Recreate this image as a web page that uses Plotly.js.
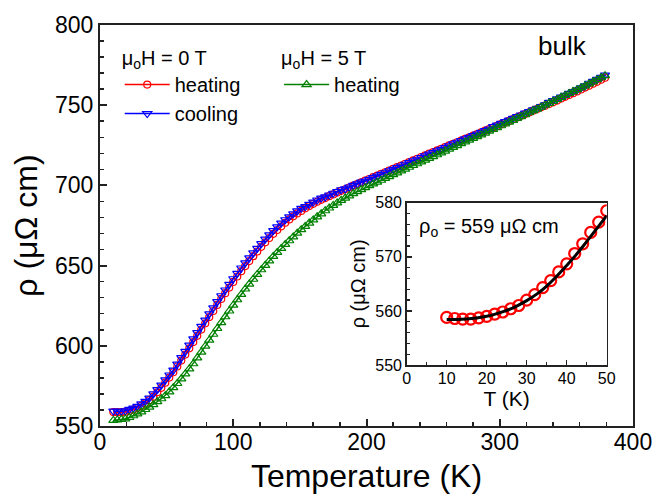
<!DOCTYPE html>
<html>
<head>
<meta charset="utf-8">
<script src="https://cdn.plot.ly/plotly-3.0.1.min.js"></script>
<style>html,body{margin:0;padding:0;background:#fff;}#chart{width:657px;height:497px;}</style>
</head>
<body>
<div id="chart"></div>
<script>
// Temperature grid of the main panel (K)
const T = [10,13,16,19,22,25,28,31,34,37,40,43,46,49,52,55,58,61,64,67,70,73,76,79,82,85,88,91,94,97,
100,103,106,109,112,115,118,121,124,127,130,133,136,139,142,145,148,151,154,157,160,163,166,169,172,175,178,181,184,187,
190,193,196,199,202,205,208,211,214,217,220,223,226,229,232,235,238,241,244,247,250,253,256,259,262,265,268,271,274,277,
280,283,286,289,292,295,298,301,304,307,310,313,316,319,322,325,328,331,334,337,340,343,346,349,352,355,358,361,364,367,
370,373,376,379];

// muoH = 0 T, heating (red)
const rho0Heat = [558.7,558.6,558.6,558.9,559.5,560.2,561.3,562.5,564.1,566.1,
568.3,571.0,573.8,577.0,580.2,583.5,587.1,590.8,594.5,598.4,
602.3,606.2,610.1,614.0,617.9,621.7,625.5,629.2,632.8,636.3,
639.8,643.2,646.5,649.7,652.8,655.9,658.8,661.7,664.5,667.2,
669.8,672.2,674.5,676.7,678.8,680.7,682.5,684.1,685.7,687.1,
688.5,689.8,691.0,692.1,693.3,694.4,695.5,696.6,697.6,698.7,
699.8,700.8,701.9,703.0,704.0,705.1,706.1,707.2,708.2,709.3,
710.3,711.4,712.4,713.5,714.5,715.6,716.6,717.7,718.7,719.8,
720.8,721.8,722.8,723.9,724.9,725.9,726.9,727.9,729.0,730.0,
731.0,732.0,733.0,734.1,735.1,736.1,737.1,738.2,739.2,740.2,
741.3,742.4,743.4,744.5,745.5,746.6,747.6,748.7,749.7,750.8,
751.8,752.9,754.1,755.2,756.4,757.5,758.6,759.8,761.0,762.2,
763.4,764.6,765.9,767.1];

// muoH = 0 T, cooling (blue)
const rho0Cool = [559.3,559.2,559.2,559.5,560.4,561.1,562.2,563.8,565.4,567.4,
570.0,572.7,575.5,578.7,581.8,584.8,588.6,592.6,596.5,600.4,
604.3,608.2,612.1,616.0,619.9,623.7,627.5,631.2,634.8,638.3,
641.8,645.2,648.5,651.7,654.8,657.9,660.8,663.7,666.5,669.2,
671.8,674.2,676.5,678.6,680.4,682.3,684.1,685.7,686.8,688.2,
689.6,690.9,692.1,692.8,694.0,695.1,696.2,697.3,697.8,698.9,
700.0,701.0,702.1,702.7,703.7,704.8,705.8,706.9,707.9,709.0,
710.0,711.1,712.1,713.2,714.2,715.3,716.3,717.4,718.4,719.5,
720.5,721.5,722.5,723.6,724.6,725.9,726.9,727.9,729.0,730.0,
731.0,732.0,733.0,734.1,735.1,736.6,737.6,738.7,739.7,740.7,
741.8,742.9,743.9,745.0,746.0,747.1,748.1,749.2,750.2,751.8,
752.8,753.9,755.1,756.2,757.4,758.5,759.6,760.8,762.0,763.7,
764.9,766.1,767.4,768.8];

// muoH = 5 T, heating (green)
const rho5Heat = [553.5,553.8,554.1,554.4,555.3,556.4,557.5,558.8,560.3,561.8,
563.3,565.2,567.0,568.9,571.3,573.9,576.5,579.4,582.5,585.6,
588.8,592.5,596.1,599.8,603.5,607.2,610.8,614.5,618.1,621.7,
625.3,628.7,632.0,635.4,638.5,641.5,644.5,647.4,650.2,652.9,
655.7,658.2,660.7,663.2,665.5,667.9,670.2,672.4,674.4,676.5,
678.5,680.4,682.3,684.2,685.9,687.5,689.1,690.7,692.1,693.5,
694.9,696.1,697.4,698.6,699.8,700.9,702.0,703.2,704.4,705.5,
706.7,707.8,709.0,710.1,711.3,712.4,713.5,714.7,715.8,716.9,
718.0,719.1,720.3,721.4,722.6,723.7,724.8,726.0,727.1,728.2,
729.3,730.4,731.5,732.6,733.8,734.9,736.0,737.2,738.3,739.5,
740.6,741.8,742.9,744.1,745.3,746.5,747.6,748.8,750.0,751.2,
752.4,753.6,754.9,756.1,757.3,758.5,759.7,760.9,762.1,763.3,
764.6,765.9,767.1,768.4];

// Inset: low-temperature data and fit
const Tin = [10,12,14,16,18,20,22,24,26,28,30,32,34,36,38,40,42,44,46,48,50];
const rhoIn = [558.8,558.6,558.5,558.5,558.7,559.0,559.4,559.8,560.4,561.0,562.0,563.0,564.3,565.6,567.2,568.7,570.6,572.4,574.5,576.4,578.5];
const Tfit = [10,12.5,15,17.5,20,22.5,25,27.5,30,32.5,35,37.5,40,42.5,45,47.5,50];
const rhoFit = [558.4,558.4,558.5,558.7,559.0,559.5,560.1,560.9,561.9,563.1,564.6,566.4,568.4,570.5,572.8,575.2,577.6];

// Labels
const legendTitle0 = 'μ<sub>o</sub>H = 0 T';
const legendTitle5 = 'μ<sub>o</sub>H = 5 T';
const sampleLabel = 'bulk';
const rhoZeroLabel = 'ρ<sub>o</sub> = 559 μΩ cm';

const FONT = 'Arial, "Liberation Sans", sans-serif';
const AX = '#222';

const traces = [
  {x: T, y: rho0Heat, name: 'heating', mode: 'lines+markers', xaxis: 'x', yaxis: 'y', legend: 'legend',
   line: {color: '#ff0000', width: 1.5}, marker: {symbol: 'circle-open', size: 7, color: '#ff0000', line: {width: 1.2}}},
  {x: T, y: rho0Cool, name: 'cooling', mode: 'lines+markers', xaxis: 'x', yaxis: 'y', legend: 'legend',
   line: {color: '#0000ff', width: 1.5}, marker: {symbol: 'triangle-down-open', size: 8, color: '#0000ff', line: {width: 1.2}}},
  {x: T, y: rho5Heat, name: 'heating', mode: 'lines+markers', xaxis: 'x', yaxis: 'y', legend: 'legend2',
   line: {color: '#008000', width: 1.5}, marker: {symbol: 'triangle-up-open', size: 8, color: '#008000', line: {width: 1.2}}},
  {x: Tin, y: rhoIn, mode: 'markers', xaxis: 'x2', yaxis: 'y2', showlegend: false,
   marker: {symbol: 'circle-open', size: 11, color: '#ff0000', line: {width: 2.2}}},
  {x: Tfit, y: rhoFit, mode: 'lines', xaxis: 'x2', yaxis: 'y2', showlegend: false,
   line: {color: '#000', width: 3, shape: 'spline'}}
];

function axisBase() {
  return {showline: true, linewidth: 2, linecolor: AX, mirror: true, showgrid: false, zeroline: false,
          ticks: 'inside', tickcolor: AX, tickwidth: 2, fixedrange: true};
}

const layout = {
  width: 657, height: 497,
  margin: {l: 100, r: 24, t: 25, b: 71, pad: 0},
  paper_bgcolor: '#fff', plot_bgcolor: '#fff',
  font: {family: FONT, color: '#000'},
  showlegend: true,
  xaxis: Object.assign(axisBase(), {
    domain: [0, 1], anchor: 'y', range: [0, 400], tick0: 0, dtick: 100, ticklen: 7,
    tickfont: {size: 23}, ticklabelstandoff: -6,
    minor: {dtick: 20, ticks: 'inside', ticklen: 4, tickwidth: 1.5, tickcolor: AX, showgrid: false},
    title: {text: 'Temperature (K)', font: {size: 32}, standoff: 11}
  }),
  yaxis: Object.assign(axisBase(), {
    domain: [0, 1], anchor: 'x', range: [550, 800], tick0: 550, dtick: 50, ticklen: 7,
    tickfont: {size: 23}, ticklabelstandoff: 0,
    minor: {dtick: 10, ticks: 'inside', ticklen: 4, tickwidth: 1.5, tickcolor: AX, showgrid: false},
    title: {text: 'ρ (μΩ cm)', font: {size: 32}, standoff: 8}
  }),
  xaxis2: Object.assign(axisBase(), {
    domain: [0.5754, 0.9507], anchor: 'y2', range: [0, 50], tick0: 0, dtick: 10, ticklen: 5,
    linewidth: 1.5, tickwidth: 1.5, tickfont: {size: 16}, ticklabelstandoff: -2,
    minor: {dtick: 5, ticks: 'inside', ticklen: 3, tickwidth: 1.2, tickcolor: AX, showgrid: false},
    title: {text: 'T (K)', font: {size: 21}, standoff: 4}
  }),
  yaxis2: Object.assign(axisBase(), {
    domain: [0.152, 0.557], anchor: 'x2', range: [550, 580], tick0: 550, dtick: 10, ticklen: 5,
    linewidth: 1.5, tickwidth: 1.5, tickfont: {size: 16},
    minor: {dtick: 2, ticks: 'inside', ticklen: 3, tickwidth: 1.2, tickcolor: AX, showgrid: false},
    title: {text: 'ρ (μΩ cm)', font: {size: 20}, standoff: 4}
  }),
  legend: {
    x: 0.037, y: 0.965, xanchor: 'left', yanchor: 'top', bgcolor: 'rgba(0,0,0,0)', borderwidth: 0,
    font: {size: 20, family: FONT}, itemwidth: 45, tracegroupgap: 0,
    title: {text: legendTitle0, font: {size: 20, family: FONT}}
  },
  legend2: {
    x: 0.336, y: 0.965, xanchor: 'left', yanchor: 'top', bgcolor: 'rgba(0,0,0,0)', borderwidth: 0,
    font: {size: 20, family: FONT}, itemwidth: 45, tracegroupgap: 0,
    title: {text: legendTitle5, font: {size: 20, family: FONT}}
  },
  annotations: [
    {text: sampleLabel, xref: 'x', yref: 'y', x: 347, y: 787, xanchor: 'center', yanchor: 'middle',
     showarrow: false, font: {size: 26, family: FONT, color: '#000'}},
    {text: rhoZeroLabel, xref: 'x2', yref: 'y2', x: 2.5, y: 575.5, xanchor: 'left', yanchor: 'middle',
     showarrow: false, font: {size: 20, family: FONT, color: '#000'}}
  ]
};

Plotly.newPlot('chart', traces, layout, {displayModeBar: false, staticPlot: true});
</script>
</body>
</html>
